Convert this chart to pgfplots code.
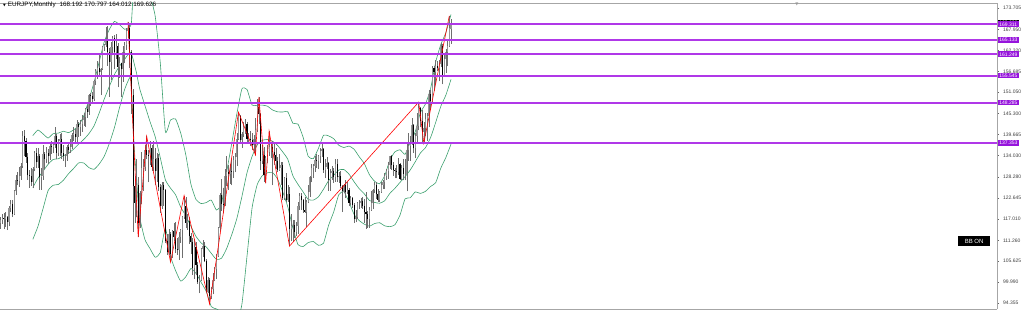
\documentclass[border=0pt]{standalone}
\usepackage{pgfplots}
\pgfplotsset{compat=1.18}
\usepackage{pgfplotstable}
\usepackage{fontspec}
\setmainfont{Liberation Sans}
\newfontfamily\symfont{DejaVu Sans}
\definecolor{bbgreen}{RGB}{60,160,110}
\definecolor{lvl}{RGB}{176,56,232}
\definecolor{lblbg}{RGB}{150,20,220}
\definecolor{wick}{RGB}{110,110,110}
\definecolor{bull}{RGB}{150,150,150}

\pgfplotstableread{
n o h l c
3 116.0 117.6 114.3 116.8
4 116.8 118.2 115.6 117.2
5 117.2 118.5 114.2 116.9
6 116.9 118.9 114.8 117.6
7 117.6 117.9 114.0 116.2
8 116.2 120.6 115.0 120.0
9 120.0 122.0 119.0 121.0
10 121.0 122.1 117.5 118.4
11 118.4 124.8 118.0 124.4
12 124.4 128.8 123.5 127.6
13 127.6 129.6 126.0 127.3
14 127.3 131.0 125.7 128.6
15 128.6 132.0 127.5 131.2
16 131.2 140.6 130.8 139.4
17 139.4 140.9 133.8 137.9
18 137.9 138.7 132.1 133.6
19 133.6 134.7 127.6 128.7
20 128.7 130.2 125.4 128.6
21 128.6 130.8 125.8 127.0
22 127.0 131.0 125.2 130.4
23 130.4 135.3 129.8 134.8
24 134.8 136.2 130.6 132.2
25 132.2 136.0 130.8 133.8
26 133.8 134.5 124.9 128.2
27 128.2 130.7 124.9 128.5
28 128.5 136.8 127.5 134.4
29 134.4 135.0 130.4 133.0
30 133.0 136.3 132.0 134.6
31 134.6 135.8 131.8 134.0
32 134.0 137.2 132.8 136.5
33 136.5 138.0 134.4 136.3
34 136.3 137.7 134.6 136.8
35 136.8 141.6 136.2 139.2
36 139.2 139.8 133.0 134.8
37 134.8 138.6 133.8 138.0
38 138.0 139.8 134.0 138.6
39 138.6 140.2 133.0 134.8
40 134.8 136.8 132.6 133.9
41 133.9 134.5 131.0 133.9
42 133.9 137.0 132.7 136.4
43 136.4 137.8 134.4 135.6
44 135.6 138.5 134.8 136.4
45 136.4 140.0 135.8 139.6
46 139.6 141.8 138.0 139.8
47 139.8 141.2 137.6 139.0
48 139.0 143.5 137.4 142.5
49 142.5 143.0 138.9 141.8
50 141.8 143.6 139.4 142.4
51 142.4 145.0 140.5 143.5
52 143.5 145.5 142.0 144.5
53 144.5 146.8 141.8 146.6
54 146.6 147.5 144.2 145.8
55 145.8 150.6 145.0 150.4
56 150.4 150.8 147.4 150.0
57 150.0 151.2 148.4 149.2
58 149.2 154.4 148.6 154.0
59 154.0 157.3 153.0 156.7
60 156.7 159.5 154.7 157.6
61 157.6 161.3 155.5 156.6
62 156.6 157.7 150.3 157.3
63 157.3 163.4 157.0 163.1
64 163.1 164.0 162.2 163.8
65 163.8 168.7 163.3 164.8
66 164.8 168.9 158.2 162.0
67 162.0 163.0 149.8 159.3
68 159.3 164.5 154.3 163.3
69 163.3 166.3 161.0 165.6
70 165.6 166.4 157.3 162.0
71 162.0 166.6 160.1 163.4
72 163.4 164.2 152.4 157.8
73 157.8 160.6 155.0 158.8
74 158.8 159.0 149.8 157.2
75 157.2 163.5 153.9 161.8
76 161.8 164.6 158.8 163.7
77 163.7 168.3 162.5 167.5
78 167.5 170.0 165.6 168.4
79 168.4 169.2 157.6 161.9
80 161.9 162.4 145.2 150.4
81 150.4 152.0 113.6 125.8
82 125.8 128.6 116.0 121.4
83 121.4 133.2 117.6 126.0
84 126.0 128.4 112.1 116.0
85 116.0 124.5 114.6 124.0
86 124.0 135.0 121.0 130.6
87 130.6 133.0 124.5 131.0
88 131.0 137.0 130.0 135.5
89 135.5 139.2 133.0 134.2
90 134.2 135.6 126.8 133.8
91 133.8 137.9 131.5 136.0
92 136.0 137.0 129.8 131.0
93 131.0 138.0 130.0 133.0
94 133.0 136.0 126.2 130.0
95 130.0 134.8 126.8 133.4
96 133.4 134.4 124.6 125.5
97 125.5 126.4 118.6 120.6
98 120.6 126.8 119.8 126.2
99 126.2 127.0 120.6 124.8
100 124.8 125.0 110.5 111.2
101 111.2 112.9 107.3 108.2
102 108.2 114.4 107.2 112.9
103 112.9 113.6 105.4 107.6
104 107.6 114.0 106.5 113.8
105 113.8 116.0 111.0 112.1
106 112.1 116.3 107.8 108.8
107 108.8 112.0 107.4 108.6
108 108.6 113.4 106.0 112.2
109 112.2 114.3 110.6 114.1
110 114.1 117.8 106.6 117.6
111 117.6 123.3 117.0 120.4
112 120.4 122.8 114.5 116.0
113 116.0 118.4 114.1 116.4
114 116.4 117.5 110.2 112.5
115 112.5 113.2 107.5 110.8
116 110.8 111.8 102.0 103.8
117 103.8 111.6 100.8 109.5
118 109.5 110.8 102.0 104.6
119 104.6 105.3 99.6 100.0
120 100.0 101.8 97.0 100.6
121 100.6 109.2 100.2 108.8
122 108.8 111.4 106.8 109.7
123 109.7 110.8 105.5 105.7
124 105.7 106.3 97.0 97.3
125 97.3 101.5 97.0 100.6
126 100.6 101.2 94.1 96.3
127 96.3 98.8 95.5 98.1
128 98.1 102.4 96.7 100.6
129 100.6 104.2 100.2 103.6
130 103.6 107.6 100.8 107.0
131 107.0 114.8 106.8 114.6
132 114.6 124.0 113.7 123.4
133 123.4 127.7 119.1 121.0
134 121.0 125.3 118.7 120.8
135 120.8 130.4 120.4 128.6
136 128.6 133.8 125.8 129.6
137 129.6 131.4 124.9 129.0
138 129.0 131.9 126.4 130.0
139 130.0 133.0 126.0 129.8
140 129.8 134.0 128.0 132.8
141 132.8 134.8 129.5 133.6
142 133.6 140.0 131.2 138.6
143 138.6 145.7 138.3 144.8
144 144.8 145.0 137.8 138.2
145 138.2 140.4 136.2 139.8
146 139.8 143.0 139.0 141.8
147 141.8 143.8 139.8 142.4
148 142.4 143.1 137.8 138.5
149 138.5 140.0 137.7 138.6
150 138.6 140.6 136.6 138.2
151 138.2 140.2 135.5 136.8
152 136.8 139.5 134.6 138.6
153 138.6 144.2 134.2 141.0
154 141.0 149.2 140.4 147.0
155 147.0 149.8 142.4 145.2
156 145.2 145.4 130.1 132.6
157 132.6 137.0 131.9 134.2
158 134.2 136.4 127.0 128.9
159 128.9 134.0 126.6 133.4
160 133.4 137.0 132.0 135.0
161 135.0 140.6 134.0 136.4
162 136.4 137.6 133.4 136.4
163 136.4 138.0 126.0 135.0
164 135.0 137.3 131.6 134.2
165 134.2 136.0 130.4 132.6
166 132.6 133.6 129.6 130.2
167 130.2 134.5 130.0 130.7
168 130.7 132.4 126.1 131.4
169 131.4 132.2 122.2 122.6
170 122.6 128.4 122.2 128.1
171 128.1 129.4 121.6 122.0
172 122.0 126.0 121.6 123.6
173 123.6 125.6 109.7 114.4
174 114.4 118.4 111.0 115.2
175 115.2 116.6 110.8 115.4
176 115.4 116.6 112.0 113.6
177 113.6 116.2 112.4 115.2
178 115.2 121.6 113.0 120.6
179 120.6 124.0 119.4 123.2
180 123.2 124.0 119.4 122.0
181 122.0 122.4 118.6 119.3
182 119.3 122.8 118.6 118.8
183 118.8 122.0 114.8 121.6
184 121.6 126.0 121.2 124.2
185 124.2 128.6 123.0 128.2
186 128.2 131.8 126.8 130.8
187 130.8 131.8 128.0 131.2
188 131.2 134.0 129.6 132.9
189 132.9 134.4 130.8 132.6
190 132.6 134.2 130.4 133.8
191 133.8 136.2 132.0 135.2
192 135.2 137.5 133.6 135.7
193 135.7 136.2 129.4 130.2
194 130.2 133.2 128.0 131.0
195 131.0 133.6 130.3 132.0
196 132.0 132.4 124.6 127.6
197 127.6 130.4 124.6 129.3
198 129.3 131.2 127.6 129.9
199 129.9 130.8 126.6 128.4
200 128.4 133.2 127.0 131.8
201 131.8 133.0 126.8 128.2
202 128.2 129.6 126.6 128.6
203 128.6 130.0 125.4 125.8
204 125.8 126.0 118.8 124.5
205 124.5 126.3 124.0 126.0
206 126.0 127.5 122.6 124.3
207 124.3 126.8 123.8 124.8
208 124.8 125.2 120.6 121.3
209 121.3 123.2 120.8 122.6
210 122.6 123.0 120.0 120.8
211 120.8 121.3 115.9 116.9
212 116.9 119.5 116.1 117.6
213 117.6 121.6 117.0 121.2
214 121.2 122.0 119.8 121.2
215 121.2 122.6 120.0 121.9
216 121.9 122.8 119.8 120.4
217 120.4 122.4 115.9 118.8
218 118.8 124.2 114.4 118.3
219 118.3 119.2 114.6 117.0
220 117.0 120.2 114.6 119.3
221 119.3 124.4 119.2 121.2
222 121.2 125.0 119.6 124.7
223 124.7 126.8 124.0 126.2
224 126.2 127.0 122.4 123.7
225 123.7 125.0 121.6 122.2
226 122.2 124.6 121.6 124.3
227 124.3 127.0 124.0 126.2
228 126.2 127.6 125.0 127.0
229 127.0 129.4 125.0 128.6
230 128.6 130.4 127.6 129.8
231 129.8 132.4 127.8 131.4
232 131.4 134.0 130.4 133.8
233 133.8 134.2 130.2 131.6
234 131.6 132.4 128.6 130.2
235 130.2 130.6 127.9 129.9
236 129.9 131.5 127.9 129.6
237 129.6 133.5 128.8 131.8
238 131.8 132.0 127.4 127.8
239 127.8 131.4 127.4 130.8
240 130.8 133.2 127.4 129.1
241 129.1 133.2 127.4 129.1
242 129.1 137.4 124.4 135.4
243 135.4 140.0 132.6 136.6
244 136.6 139.2 132.6 137.6
245 137.6 144.2 137.0 142.2
246 142.2 142.4 134.8 136.0
247 136.0 140.0 133.4 139.2
248 139.2 145.6 137.4 142.0
249 142.0 148.4 140.8 146.8
250 146.8 147.2 141.6 143.4
251 143.4 146.2 137.8 140.4
252 140.4 143.0 137.4 141.4
253 141.4 145.6 139.2 144.0
254 144.0 145.6 138.0 144.6
255 144.6 151.6 141.6 150.6
256 150.6 151.6 146.2 148.8
257 148.8 158.0 148.4 157.6
258 157.6 158.0 151.4 156.4
259 156.4 159.6 153.4 158.0
260 158.0 159.4 156.8 157.6
261 157.6 159.8 154.0 158.6
262 158.6 164.3 157.8 163.4
263 163.4 164.0 153.2 155.8
264 155.8 161.0 155.6 160.0
265 160.0 162.6 156.2 161.8
266 161.8 165.2 158.0 163.4
267 163.4 171.6 163.2 168.2
268 168.192 170.797 164.012 169.626
}\candles

\pgfplotstableread{
n mid up lo
22 125.44 139.40 111.50
25 127.94 140.90 114.96
28 129.80 139.86 119.74
31 131.69 138.75 124.63
34 133.00 139.93 126.06
37 133.17 140.07 126.27
40 133.99 140.57 127.41
43 134.68 140.20 129.15
46 135.76 140.94 130.57
49 137.13 142.17 132.08
52 138.39 144.74 132.04
55 139.92 149.02 130.81
58 142.00 153.69 130.33
61 145.42 159.11 131.73
64 149.21 164.59 133.83
67 152.60 167.93 137.26
70 155.81 170.09 141.52
73 158.08 169.24 146.91
76 159.90 168.00 151.80
79 161.80 168.60 154.99
80 161.44 169.70 153.20
81 159.90 177.40 142.30
82 158.10 182.40 133.80
83 156.25 184.10 128.40
84 153.86 186.50 121.20
85 151.80 186.50 117.10
88 147.44 183.50 111.40
91 143.09 177.20 108.99
94 139.10 171.50 106.70
97 133.43 158.90 107.96
100 127.50 140.46 114.54
103 125.28 143.60 106.95
106 123.48 143.86 103.10
109 120.19 140.09 100.29
112 117.85 134.24 101.46
115 115.00 126.36 103.68
118 112.30 122.24 102.35
121 110.56 121.13 99.98
124 109.48 121.40 97.55
127 107.75 122.07 93.43
130 106.12 119.41 92.82
133 106.43 121.03 91.82
136 109.02 129.54 88.50
139 112.76 137.23 88.28
142 117.05 145.19 88.91
145 123.01 151.97 94.05
148 129.40 151.80 106.99
151 133.82 147.61 120.02
154 136.89 147.55 126.22
157 138.13 147.60 128.65
160 138.36 147.32 129.40
163 137.90 146.30 129.50
166 136.76 145.80 127.72
169 135.02 145.74 124.30
172 133.03 145.81 120.24
175 128.60 142.73 114.50
178 126.30 142.50 110.10
181 124.29 138.98 109.59
184 122.24 133.84 110.64
187 122.07 133.20 110.94
190 122.93 135.94 109.92
193 124.99 139.50 110.47
196 127.30 139.32 115.29
199 128.74 138.58 118.89
202 130.16 136.80 123.52
205 130.28 136.20 124.35
208 129.05 136.59 121.51
211 126.99 135.74 118.23
214 125.14 133.72 116.57
217 123.75 131.90 115.60
220 121.98 128.90 115.05
223 121.45 127.15 115.75
226 121.22 126.46 115.98
229 121.88 128.60 115.15
232 123.86 132.80 114.92
235 125.23 135.03 115.43
238 126.82 135.60 118.03
241 128.39 134.37 122.41
244 130.14 137.60 122.68
247 132.38 140.47 124.28
250 134.72 145.58 123.85
253 136.17 147.91 124.42
256 138.88 152.02 125.74
259 142.96 159.18 126.74
262 147.26 163.88 130.64
265 150.32 167.10 133.54
268 154.52 171.96 137.08
}\bb

\pgfplotstableread{
v lo hi
169.311 0 600
165.133 0 600
161.249 0 600
155.545 0 600
148.285 0 600
137.353 0 600
}\levels

\tikzset{lbl/.style={anchor=west, fill=lblbg, text=white, font=\fontsize{5}{6}\selectfont, inner xsep=1.6pt, inner ysep=1.1pt, xshift=0.6pt}}

\begin{document}
\begin{tikzpicture}
\begin{axis}[
  at={(0pt,2pt)}, anchor=south west,
  scale only axis, width=997pt, height=306pt,
  xmin=2.7, xmax=589.2, ymin=92.79, ymax=175.05,
  axis x line=box, axis y line=right,
  axis line style={-, draw=black!35, line width=0.8pt},
  xtick=\empty,
  ytick={94.355,99.990,105.625,111.260,117.010,122.645,128.280,134.030,139.665,145.300,151.050,156.685,162.320,167.950,173.705},
  yticklabels={94.355,99.990,105.625,111.260,117.010,122.645,128.280,134.030,139.665,145.300,151.050,156.685,162.320,167.950,173.705},
  tick align=outside, major tick length=2pt,
  tick style={black!60, line width=0.4pt},
  yticklabel style={font=\fontsize{5}{6}\selectfont, text=black!75, xshift=0.5pt},
  clip mode=individual,
]
% Bollinger bands
\addplot[color=bbgreen, line width=0.6pt, smooth, tension=0.3, no markers] table[x=n, y=up] {\bb};
\addplot[color=bbgreen, line width=0.6pt, smooth, tension=0.3, no markers] table[x=n, y=mid] {\bb};
\addplot[color=bbgreen, line width=0.6pt, smooth, tension=0.3, no markers] table[x=n, y=lo] {\bb};
% wicks
\addplot[color=wick, draw=none, no markers,
  error bars/.cd, y dir=plus, y explicit, error mark=none,
  error bar style={color=wick, line width=0.45pt}]
  table[x=n, y=l, y error expr=\thisrow{h}-\thisrow{l}] {\candles};
% bullish bodies
\addplot[color=bull, draw=none, no markers,
  error bars/.cd, y dir=plus, y explicit, error mark=none,
  error bar style={color=bull, line width=1.1pt}]
  table[x=n, y=o, y error expr=(\thisrow{c}-\thisrow{o}+abs(\thisrow{c}-\thisrow{o}))/2] {\candles};
% bearish bodies
\addplot[color=black, draw=none, no markers,
  error bars/.cd, y dir=plus, y explicit, error mark=none,
  error bar style={color=black, line width=1.1pt}]
  table[x=n, y=c, y error expr=(\thisrow{o}-\thisrow{c}+abs(\thisrow{o}-\thisrow{c}))/2] {\candles};
% zigzag
\addplot[color=red, line width=0.6pt, no markers] coordinates {
  (78,170.0) (84,112.1) (89,139.2) (103,105.4) (111,123.3) (126,94.1)
  (143,145.7) (153,134.2) (155,149.8) (159,126.6) (161,140.6) (173,109.7)
  (249,148.4) (252,137.4) (267,171.6)};
% horizontal levels drawn as horizontal error bars
\addplot[color=lvl, draw=none, no markers,
  error bars/.cd, x dir=plus, x explicit, error mark=none,
  error bar style={color=lvl, line width=1.9pt}]
  table[x=lo, y=v, x error expr=\thisrow{hi}-\thisrow{lo}] {\levels};
% price labels
\node[lbl, fill=black] at (axis cs:589.2,169.626) {169.626};
\node[lbl] at (axis cs:589.2,169.311) {169.311};
\node[lbl] at (axis cs:589.2,165.133) {165.133};
\node[lbl] at (axis cs:589.2,161.249) {161.249};
\node[lbl] at (axis cs:589.2,155.545) {155.545};
\node[lbl] at (axis cs:589.2,148.285) {148.285};
\node[lbl] at (axis cs:589.2,137.353) {137.353};
% BB ON
\node[fill=black, text=white, font=\fontsize{6}{7}\selectfont, minimum width=32pt, minimum height=9.5pt, inner sep=0pt] at (rel axis cs:0.977,0.222) {BB ON};
% title
\node[anchor=west, font=\fontsize{6.3}{7.5}\selectfont, inner sep=0pt] at (rel axis cs:0.003,0.9935) {{\symfont\fontsize{3.5}{4}\selectfont ▼}\hspace{2pt}EURJPY,Monthly\hspace{4pt}168.192 170.797 164.012 169.626};
% chart-shift marker
\node[text=black!40, font=\symfont\fontsize{4}{4}\selectfont, inner sep=0pt, anchor=north] at (rel axis cs:0.7994,1.0) {▼};
\end{axis}
\pgfresetboundingbox
\useasboundingbox (0,0) rectangle (1024pt,311pt);
\end{tikzpicture}
\end{document}
